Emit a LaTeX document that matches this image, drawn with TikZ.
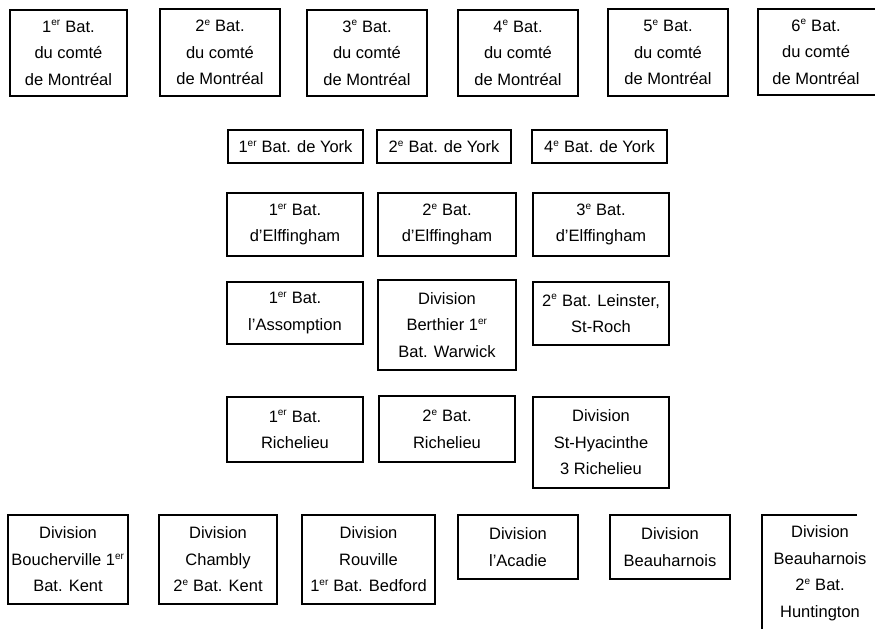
\documentclass[tikz,border=0pt]{standalone}
\usepackage{fontspec}
\setmainfont{Liberation Sans}
\newcommand{\sps}[1]{\textsuperscript{\fontsize{10}{10}\selectfont #1}}
\begin{document}
\begin{tikzpicture}[x=1pt,y=-1pt,
  bx/.style={draw, line width=1.3pt, inner sep=0pt, align=center,
    font=\fontsize{16.5}{26.5}\selectfont},
  tx/.style={inner sep=0pt, align=center, font=\fontsize{16.5}{26.5}\selectfont}]
\useasboundingbox (0,0) rectangle (875,629);
\newcommand{\bxat}[6]{\node[bx, minimum width=#3-#1, minimum height=#4-#2] (#5) at ({(#1+#3)/2},{(#2+#4)/2}) {#6};}
% Row 1
\bxat{10}{10}{127}{96}{m1}{1\sps{er} Bat.\\du comté\\de Montréal}
\bxat{160}{9}{280}{96}{m2}{2\sps{e} Bat.\\du comté\\de Montréal}
\bxat{307}{10}{427}{96}{m3}{3\sps{e} Bat.\\du comté\\de Montréal}
\bxat{458}{10}{578}{96}{m4}{4\sps{e} Bat.\\du comté\\de Montréal}
\bxat{608}{9}{728}{96}{m5}{5\sps{e} Bat.\\du comté\\de Montréal}
\node[tx] (m6) at (816,52) {6\sps{e} Bat.\\du comté\\de Montréal};
\draw[line width=1.3pt] (875,9) -- (758,9) -- (758,95) -- (875,95);
% Row 2
\bxat{228}{130}{363}{163}{y1}{1\sps{er} Bat. de York}
\bxat{377}{130}{511}{163}{y2}{2\sps{e} Bat. de York}
\bxat{532}{130}{667}{163}{y3}{4\sps{e} Bat. de York}
% Row 3
\bxat{227}{193}{363}{256}{e1}{1\sps{er} Bat.\\d'Elffingham}
\bxat{378}{193}{516}{256}{e2}{2\sps{e} Bat.\\d'Elffingham}
\bxat{533}{193}{669}{256}{e3}{3\sps{e} Bat.\\d'Elffingham}
% Row 4
\bxat{227}{282}{363}{344}{a1}{1\sps{er} Bat.\\l'Assomption}
\bxat{378}{280}{516}{370}{a2}{Division\\Berthier 1\sps{er}\\Bat. Warwick}
\bxat{533}{282}{669}{345}{a3}{2\sps{e} Bat. Leinster,\\St-Roch}
% Row 5
\bxat{227}{397}{363}{462}{r1}{1\sps{er} Bat.\\Richelieu}
\bxat{379}{396}{515}{462}{r2}{2\sps{e} Bat.\\Richelieu}
\bxat{533}{397}{669}{488}{r3}{Division\\St-Hyacinthe\\3 Richelieu}
% Row 6
\bxat{8}{515}{128}{604}{d1}{Division\\Boucherville 1\sps{er}\\Bat. Kent}
\bxat{159}{515}{277}{604}{d2}{Division\\Chambly\\2\sps{e} Bat. Kent}
\bxat{302}{515}{435}{604}{d3}{Division\\Rouville\\1\sps{er} Bat. Bedford}
\bxat{458}{515}{578}{579}{d4}{Division\\l'Acadie}
\bxat{610}{515}{730}{579}{d5}{Division\\Beauharnois}
\node[tx] (d6) at (820,573) {Division\\Beauharnois\\2\sps{e} Bat.\\Huntington};
\draw[line width=1.3pt] (857,515) -- (762,515) -- (762,629);
\end{tikzpicture}
\end{document}
